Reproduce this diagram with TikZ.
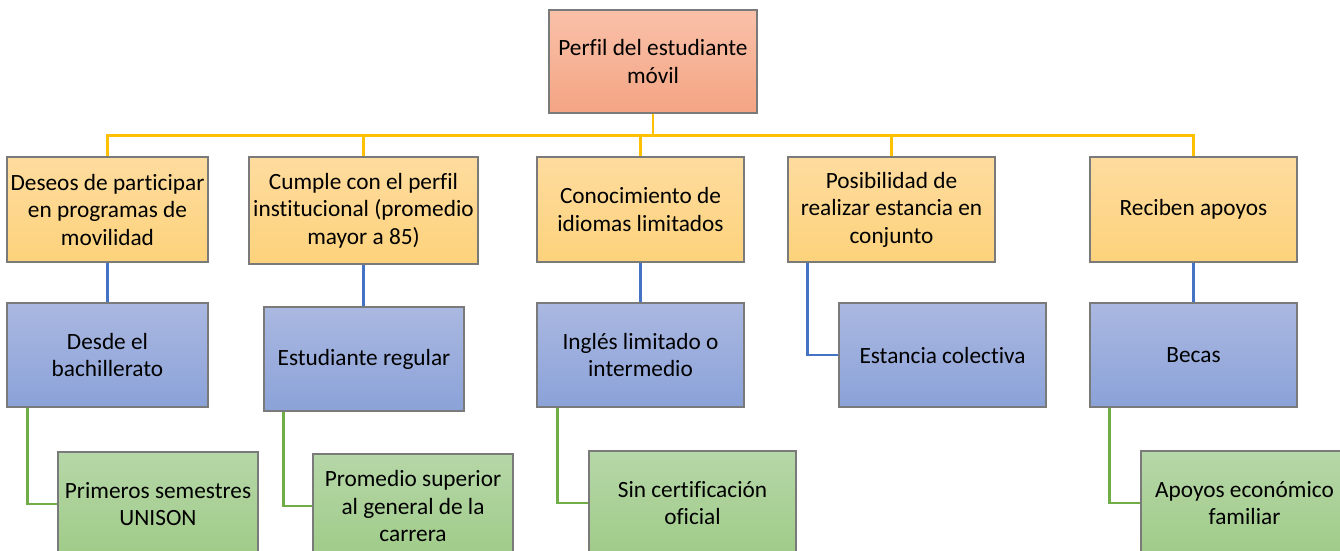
\documentclass[tikz,border=0pt]{standalone}
\usepackage{fontspec}
\setmainfont{Carlito}[Ligatures={NoCommon}]
\definecolor{oTop}{HTML}{F9C1A9}
\definecolor{oBot}{HTML}{F4A483}
\definecolor{yTop}{HTML}{FEDC9F}
\definecolor{yBot}{HTML}{FDD27B}
\definecolor{bTop}{HTML}{AAB8E1}
\definecolor{bBot}{HTML}{8BA2D8}
\definecolor{gTop}{HTML}{B6D7A8}
\definecolor{gBot}{HTML}{9FCB88}
\definecolor{lnY}{HTML}{FFC000}
\definecolor{lnB}{HTML}{4472C4}
\definecolor{lnG}{HTML}{70AD47}
\definecolor{edge}{HTML}{7A7A7A}
\tikzset{
  box/.style={draw=edge, line width=1.2pt, inner sep=2pt, align=center,
    font=\fontsize{23.3}{27.5}\selectfont, text=black},
  obox/.style={box, top color=oTop, bottom color=oBot},
  ybox/.style={box, top color=yTop, bottom color=yBot},
  bbox/.style={box, top color=bTop, bottom color=bBot},
  gbox/.style={box, top color=gTop, bottom color=gBot},
  yline/.style={draw=lnY, line width=2.5pt},
  bline/.style={draw=lnB, line width=2.5pt},
  gline/.style={draw=lnG, line width=2.5pt},
}
\begin{document}
\begin{tikzpicture}[x=1pt,y=-1pt]
\useasboundingbox (0,0) rectangle (1340,550);
% top
\node[obox, minimum width=208pt, minimum height=103pt] (top) at (653,61.5) {Perfil del estudiante\\móvil};
% level 1
\node[ybox, minimum width=201pt, minimum height=105pt] (a1) at (107.5,209.5) {Deseos de participar\\en programas de\\movilidad};
\node[ybox, minimum width=229pt, minimum height=107pt] (a2) at (363.5,210.5) {Cumple con el perfil\\institucional (promedio\\mayor a 85)};
\node[ybox, minimum width=207pt, minimum height=105pt] (a3) at (640.5,209.5) {Conocimiento de\\idiomas limitados};
\node[ybox, minimum width=207pt, minimum height=105pt] (a4) at (891.5,209.5) {Posibilidad de\\realizar estancia en\\conjunto};
\node[ybox, minimum width=207pt, minimum height=105pt] (a5) at (1193.5,209.5) {Reciben apoyos};
% level 2
\node[bbox, minimum width=201pt, minimum height=104pt] (b1) at (107.5,355) {Desde el\\bachillerato};
\node[bbox, minimum width=200pt, minimum height=104pt] (b2) at (364,359) {Estudiante regular};
\node[bbox, minimum width=207pt, minimum height=104pt] (b3) at (640.5,355) {Inglés limitado o\\intermedio};
\node[bbox, minimum width=207pt, minimum height=104pt] (b4) at (942.5,355) {Estancia colectiva};
\node[bbox, minimum width=207pt, minimum height=104pt] (b5) at (1193.5,355) {Becas};
% level 3
\node[gbox, minimum width=200pt, minimum height=104pt] (c1) at (158,504) {Primeros semestres\\UNISON};
\node[gbox, minimum width=200pt, minimum height=104pt] (c2) at (413,506) {Promedio superior\\al general de la\\carrera};
\node[gbox, minimum width=207pt, minimum height=104pt] (c3) at (692.5,503) {Sin certificación\\oficial};
\node[gbox, minimum width=207pt, minimum height=104pt] (c5) at (1244.5,503) {Apoyos económico\\familiar};
% yellow connectors
\coordinate (bus) at ([yshift=-22pt]top.south);
\foreach \n in {a1,a2,a3,a4,a5}{
  \draw[yline] (top.south) -- (bus) -| (\n.north);
}
% blue connectors
\draw[bline] (a1.south) -- (a1.south |- b1.north);
\draw[bline] (a2.south) -- (a2.south |- b2.north);
\draw[bline] (a3.south) -- (a3.south |- b3.north);
\draw[bline] ([xshift=20pt]a4.south west) |- (b4.west);
\draw[bline] (a5.south) -- (a5.south |- b5.north);
% green connectors
\draw[gline] ([xshift=21pt]b1.south west) |- (c1.west);
\draw[gline] ([xshift=20pt]b2.south west) |- (c2.west);
\draw[gline] ([xshift=21pt]b3.south west) |- (c3.west);
\draw[gline] ([xshift=20pt]b5.south west) |- (c5.west);
\end{tikzpicture}
\end{document}
